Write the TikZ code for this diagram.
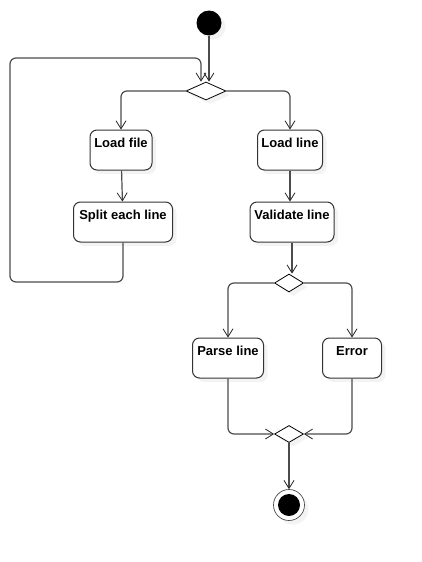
\documentclass[tikz,border=0pt]{standalone}
\usepackage{fontspec}
\setmainfont{Liberation Sans}
\usetikzlibrary{arrows.meta}
\usetikzlibrary{shapes.geometric}
\usetikzlibrary{shadows}

\tikzset{
  action/.style={draw=black!80, line width=1pt, rounded corners=7pt, fill=white,
    inner xsep=0pt, inner ysep=3pt, text height=14pt, text depth=20pt,
    font=\fontsize{13}{14}\selectfont\bfseries,
    drop shadow={shadow xshift=4pt, shadow yshift=-4pt, fill=black!9}},
  choice/.style={diamond, draw=black, line width=0.8pt, fill=white, inner sep=0pt,
    minimum height=18pt,
    drop shadow={shadow xshift=4pt, shadow yshift=-4pt, fill=black!9}},
  flow/.style={draw=black!70, line width=1.2pt, rounded corners=6pt,
    -{Straight Barb[length=8pt,width=10pt,line width=0.8pt,color=black!85]}},
}

\begin{document}
\begin{tikzpicture}[x=1pt, y=-1pt]
        \useasboundingbox (0,0) rectangle (421,562);

        \node[circle, fill=black, minimum size=25pt, inner sep=0pt,
          drop shadow={shadow xshift=4pt, shadow yshift=-4pt, fill=black!9}] (start) at (209,23) {};
        \node[choice, minimum width=40pt] (dec1) at (206,91) {};
        \node[action, minimum width=62pt] (loadf) at (121,150) {Load file};
        \node[action, minimum width=99pt] (split) at (123,222) {Split each line};
        \node[action, minimum width=65pt] (loadl) at (290,150) {Load line};
        \node[action, minimum width=84pt] (valid) at (292,222) {Validate line};
        \node[choice, minimum width=29pt] (dec2) at (289,283) {};
        \node[action, minimum width=71pt] (parse) at (228,358) {Parse line};
        \node[action, minimum width=59pt] (error) at (352,358) {Error};
        \node[choice, minimum width=29pt, minimum height=17pt] (merge) at (289,434) {};
        \node[circle, draw=black!70, line width=0.7pt, fill=white, minimum size=31pt, inner sep=0pt,
          drop shadow={shadow xshift=4pt, shadow yshift=-4pt, fill=black!9}] (stop) at (289,505) {};
        \node[circle, fill=black, minimum size=22pt, inner sep=0pt] (stopdot) at (stop) {};

        \coordinate (loopbl) at (10,282);
        \coordinate (looptl) at (10,58);

        \draw[flow] (start) -- (start |- dec1.north);
        \draw[flow] (split.south) |- (loopbl) -- (looptl) -| ([xshift=-5pt]dec1.north);
        \draw[flow] (dec1.west) -| (loadf.north);
        \draw[flow] (dec1.east) -| (loadl.north);
        \draw[flow] (loadf) -- (split);
        \draw[flow] (loadl) -- (loadl |- valid.north);
        \draw[flow] (valid.south) -- (valid.south |- dec2.north);
        \draw[flow] (dec2.west) -| (parse.north);
        \draw[flow] (dec2.east) -| (error.north);
        \draw[flow] (parse.south) |- (merge.west);
        \draw[flow] (error.south) |- (merge.east);
        \draw[flow] (merge.south) -- (stop.north);
    \end{tikzpicture}
\end{document}
